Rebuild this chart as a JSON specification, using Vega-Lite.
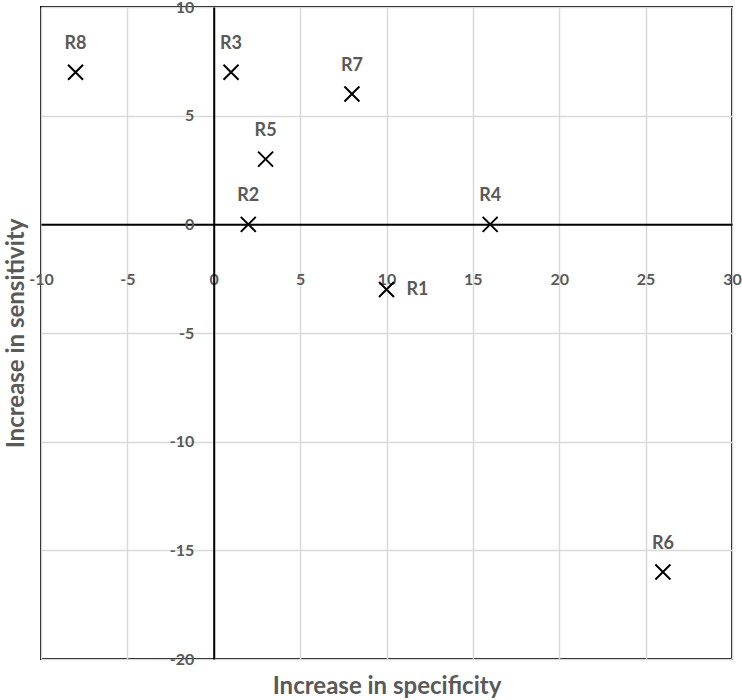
{
  "$schema": "https://vega.github.io/schema/vega-lite/v6.json",
  "width": 691,
  "height": 652,
  "autosize": "none",
  "padding": {"left": 41, "top": 7, "right": 10, "bottom": 41},
  "background": "white",
  "config": {
    "view": {"stroke": "black", "strokeWidth": 2},
    "font": "Lato",
    "axis": {
      "labelFont": "Lato",
      "labelColor": "#595959",
      "labelFontSize": 16,
      "labelFontWeight": "bold",
      "titleFont": "Lato",
      "titleColor": "#595959",
      "titleFontSize": 24,
      "titleFontWeight": "bold",
      "gridColor": "#d9d9d9",
      "gridWidth": 1.5,
      "domainColor": "black",
      "domainWidth": 2,
      "ticks": false,
      "labelFlush": false,
      "labelOverlap": false,
      "labelBound": false
    }
  },
  "data": {
    "values": [
      {"label": "R1", "specificity": 10, "sensitivity": -3},
      {"label": "R2", "specificity": 2, "sensitivity": 0},
      {"label": "R3", "specificity": 1, "sensitivity": 7},
      {"label": "R4", "specificity": 16, "sensitivity": 0},
      {"label": "R5", "specificity": 3, "sensitivity": 3},
      {"label": "R6", "specificity": 26, "sensitivity": -16},
      {"label": "R7", "specificity": 8, "sensitivity": 6},
      {"label": "R8", "specificity": -8, "sensitivity": 7}
    ]
  },
  "encoding": {
    "x": {
      "field": "specificity",
      "type": "quantitative",
      "scale": {"domain": [-10, 30], "nice": false, "zero": false},
      "axis": {
        "title": "Increase in specificity",
        "values": [-10, -5, 0, 5, 10, 15, 20, 25, 30],
        "labelExpr": "'' + datum.value",
        "offset": -434.7,
        "labelPadding": 47,
        "titleBaseline": "middle",
        "titleY": 461.7
      }
    },
    "y": {
      "field": "sensitivity",
      "type": "quantitative",
      "scale": {"domain": [-20, 10], "nice": false, "zero": false},
      "axis": {
        "title": "Increase in sensitivity",
        "values": [-20, -15, -10, -5, 0, 5, 10],
        "labelExpr": "'' + datum.value",
        "offset": -172.7,
        "labelPadding": 20,
        "titleBaseline": "middle",
        "titleX": -197
      }
    }
  },
  "layer": [
    {
      "mark": {
        "type": "point",
        "shape": "M-1,-1L1,1M-1,1L1,-1",
        "filled": false,
        "stroke": "black",
        "strokeWidth": 2,
        "size": 225,
        "opacity": 1
      }
    },
    {
      "transform": [{"filter": "datum.label !== 'R1'"}],
      "mark": {
        "type": "text",
        "dy": -28,
        "baseline": "middle",
        "align": "center",
        "fontSize": 18,
        "fontWeight": "bold",
        "color": "#595959"
      },
      "encoding": {"text": {"field": "label"}}
    },
    {
      "transform": [{"filter": "datum.label === 'R1'"}],
      "mark": {
        "type": "text",
        "dx": 20,
        "baseline": "middle",
        "align": "left",
        "fontSize": 18,
        "fontWeight": "bold",
        "color": "#595959"
      },
      "encoding": {"text": {"field": "label"}}
    }
  ]
}
